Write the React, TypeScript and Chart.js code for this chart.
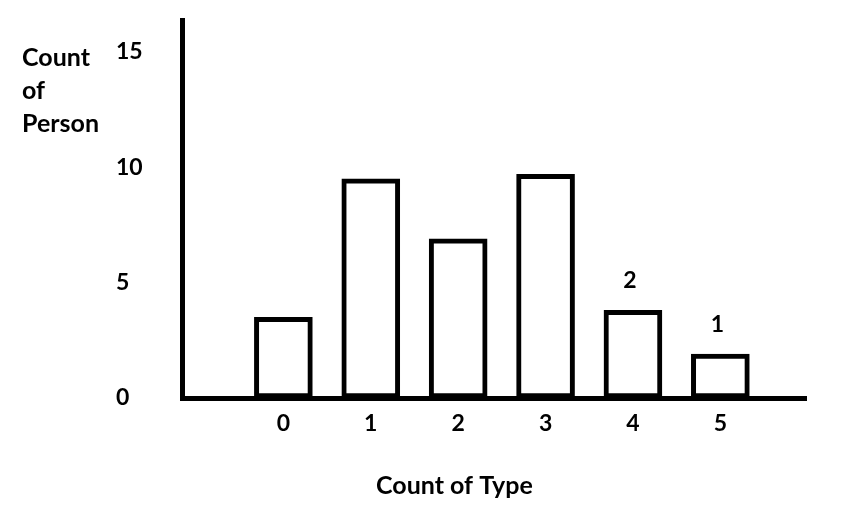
import React, { useEffect, useRef } from "react";
import { Chart, registerables } from "chart.js";

Chart.register(...registerables);

const typeCounts = [0, 1, 2, 3, 4, 5];
const personCounts = [3.5, 9.5, 6.9, 9.7, 3.8, 1.9];
const barNotes = ["", "", "", "", "2", "1"];
const yTickValues = [0, 5, 10, 15];
const xTitle = "Count of Type";
const yTitleLines = ["Count", "of", "Person"];

const FONT = "Lato, 'Open Sans', sans-serif";

const textPlugin = {
  id: "handText",
  afterDraw(chart: any) {
    const ctx = chart.ctx;
    ctx.save();
    ctx.fillStyle = "#000";
    ctx.font = `bold 25px ${FONT}`;
    ctx.textAlign = "left";
    ctx.textBaseline = "alphabetic";
    yTitleLines.forEach((line, i) => {
      ctx.fillText(line, 22, 66 + i * 33);
    });
    ctx.fillText(xTitle, 376, 494);
    const meta = chart.getDatasetMeta(0);
    ctx.font = `bold 23px ${FONT}`;
    ctx.textAlign = "center";
    ctx.textBaseline = "middle";
    meta.data.forEach((bar: any, i: number) => {
      if (barNotes[i]) ctx.fillText(barNotes[i], bar.x - 3, bar.y - 30);
    });
    ctx.restore();
  },
};

export default function App() {
  const ref = useRef<HTMLCanvasElement>(null);
  useEffect(() => {
    const chart = new Chart(ref.current!, {
      type: "bar",
      data: {
        datasets: [
          {
            data: typeCounts.map((x, i) => ({ x, y: personCounts[i] })),
            backgroundColor: "#ffffff",
            borderColor: "#000000",
            borderWidth: 5,
            borderSkipped: false,
            barThickness: 58,
          },
        ],
      },
      options: {
        animation: false,
        responsive: false,
        events: [],
        layout: { padding: { left: 116, top: 20, right: 42, bottom: 71 } },
        plugins: { legend: { display: false }, tooltip: { enabled: false } },
        scales: {
          x: {
            type: "linear",
            offset: false,
            min: -1.16,
            max: 5.98,
            grid: { display: false, drawTicks: false },
            border: { display: true, color: "#000", width: 5 },
            ticks: {
              color: "#000",
              font: { family: FONT, size: 23, weight: "bold" },
              padding: 12,
              callback: (v: any) => String(v),
            },
            afterBuildTicks: (s: any) => {
              s.ticks = typeCounts.map((v) => ({ value: v }));
            },
            afterFit: (s: any) => {
              s.height = 40;
            },
          },
          y: {
            min: 0,
            max: 16.39,
            grid: { display: false, drawTicks: false },
            border: { display: true, color: "#000", width: 5 },
            ticks: {
              color: "#000",
              crossAlign: "far",
              font: { family: FONT, size: 23, weight: "bold" },
              callback: (v: any) => String(v),
            },
            afterBuildTicks: (s: any) => {
              s.ticks = yTickValues.map((v) => ({ value: v }));
            },
            afterFit: (s: any) => {
              s.width = 66;
            },
          },
        },
      },
      plugins: [textPlugin],
    });
    return () => chart.destroy();
  }, []);
  return (
    <div style={{ position: "absolute", left: 0, top: 0, width: 848, height: 509, background: "#fff" }}>
      <canvas ref={ref} width={848} height={509} />
    </div>
  );
}
